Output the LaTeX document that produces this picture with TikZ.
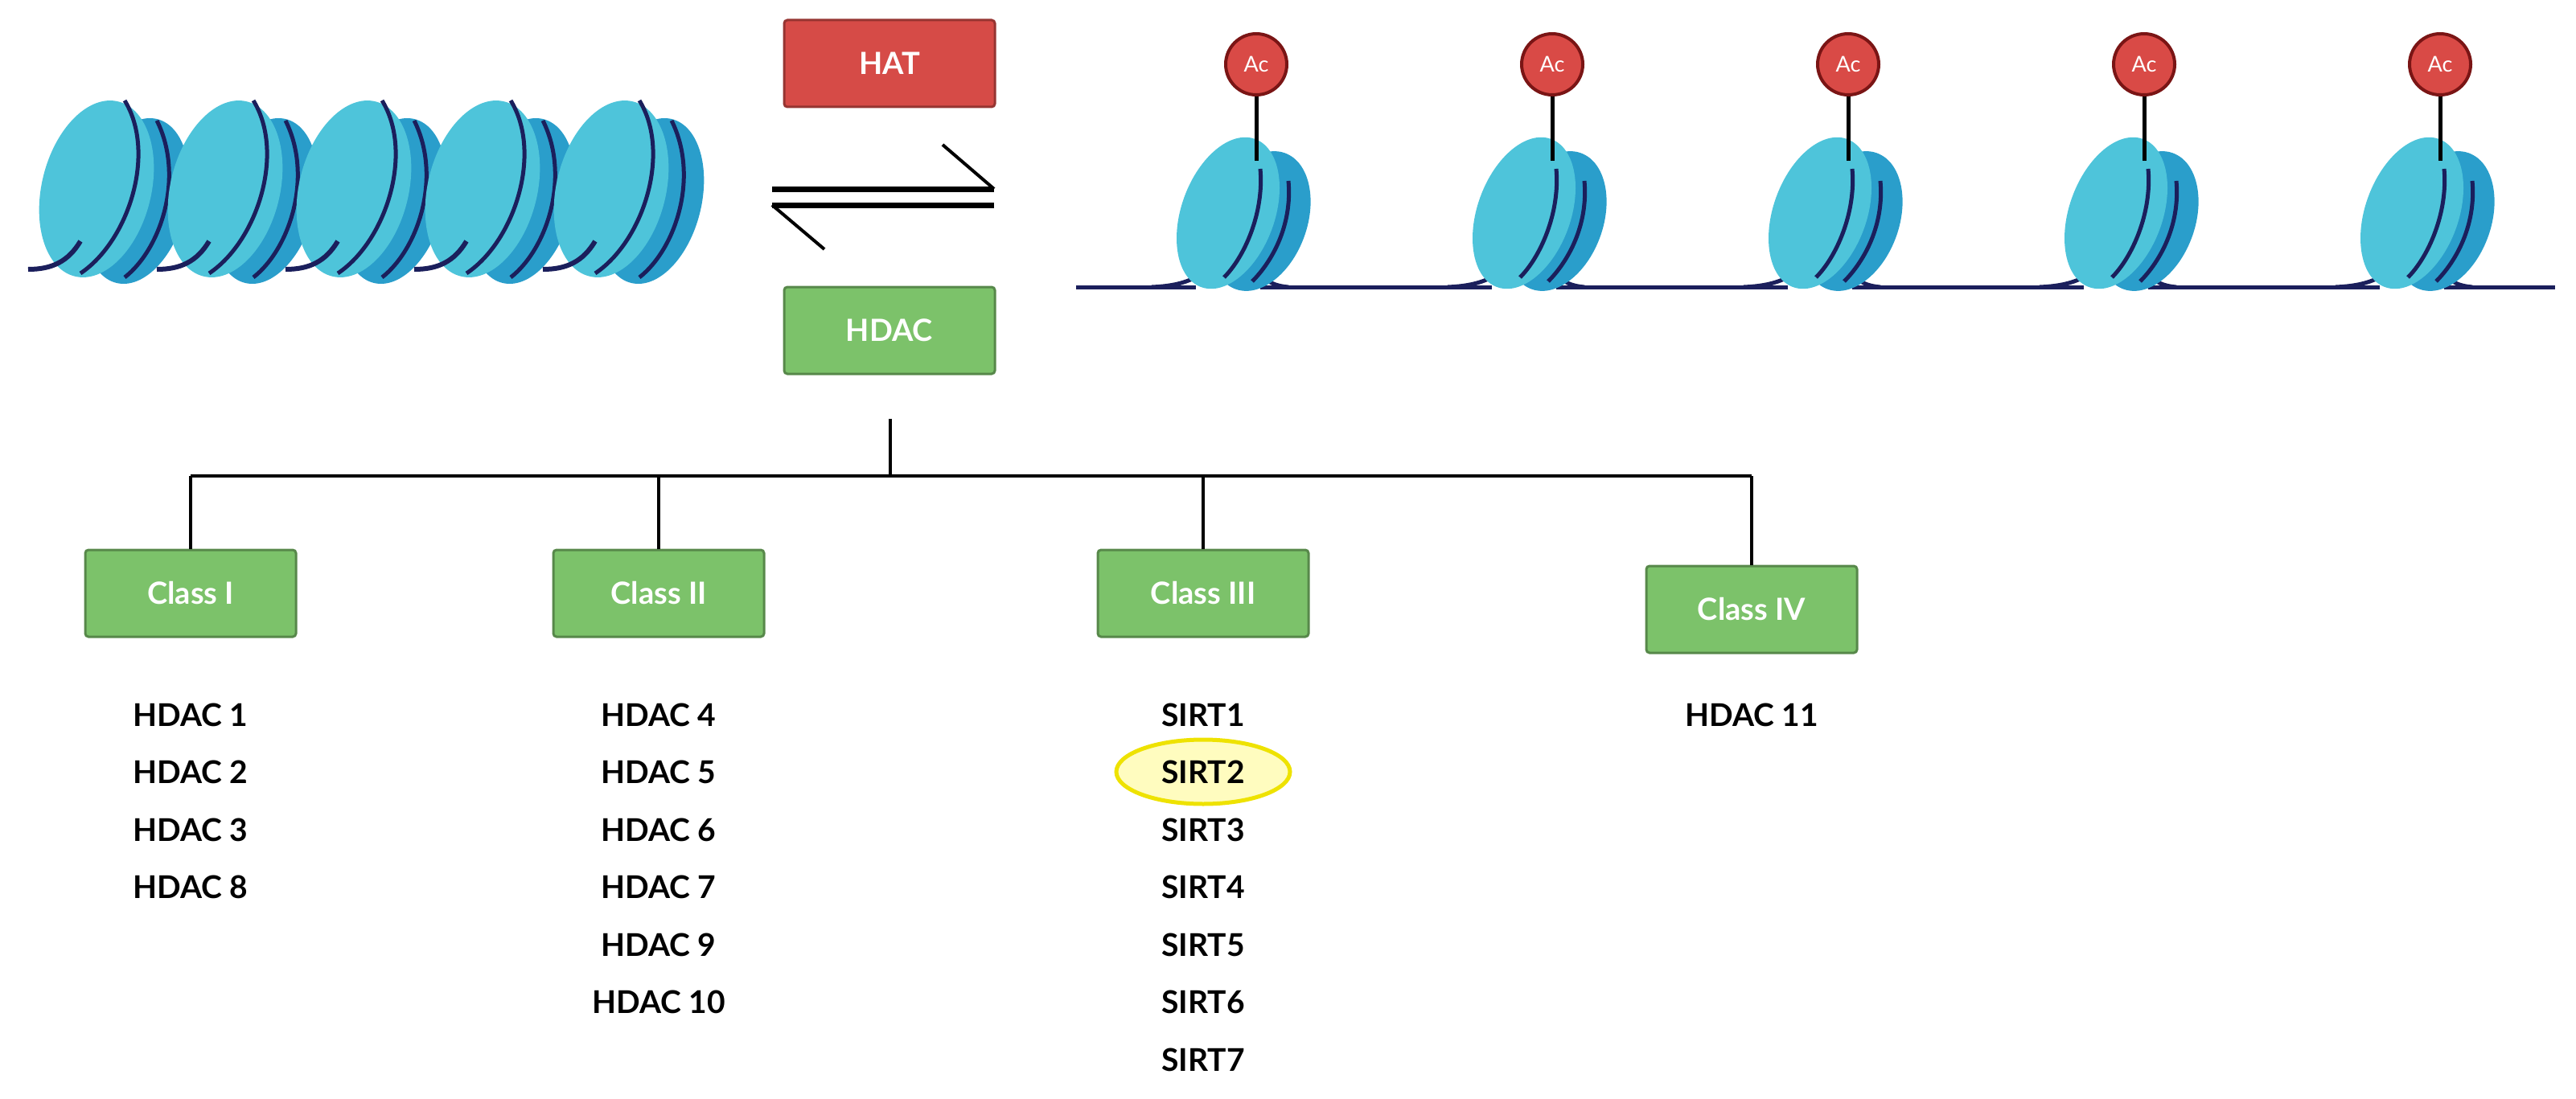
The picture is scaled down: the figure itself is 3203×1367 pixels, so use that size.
\documentclass[tikz,border=0pt]{standalone}
\usepackage{fontspec}
\setmainfont{Lato}
\begin{document}
\begin{tikzpicture}[x=1pt,y=1pt,
  box/.style={draw=#1!70!black,line width=3pt,rounded corners=4pt,minimum width=262pt,minimum height=108pt,text=white,font=\fontsize{38}{44}\selectfont\bfseries},
  gbox/.style={box=grn,fill=grn},
  item/.style={font=\fontsize{39}{44}\selectfont\bfseries,text=black},
  ac/.style={circle,draw=acb,line width=4pt,fill=acr,minimum size=76pt,inner sep=0pt,text=white,font=\fontsize{27}{30}\selectfont},
  line/.style={line width=4pt,black}]
\definecolor{grn}{HTML}{7CC26A}
\definecolor{red1}{HTML}{D64B47}
\definecolor{acr}{HTML}{D94A46}
\definecolor{acb}{HTML}{7A1515}
\definecolor{cyl}{HTML}{4EC4DA}
\definecolor{cyd}{HTML}{2A9ECB}
\definecolor{navy}{HTML}{1B1F5C}
\useasboundingbox (0,0) rectangle (3203,-1367);
% left condensed chromatin
\foreach \i in {0,...,4}{
  \pgfmathsetmacro{\cx}{120+160*\i}
  \fill[cyd,rotate around={-14:(\cx+50,-250)}] (\cx+50,-250) ellipse [x radius=62, y radius=105];
  \fill[cyl,rotate around={-14:(\cx,-235)}] (\cx,-235) ellipse [x radius=68, y radius=112];
  \draw[navy,line width=5pt] (\cx+35,-125) .. controls (\cx+75,-190) and (\cx+40,-300) .. (\cx-20,-340);
  \draw[navy,line width=5pt] (\cx+75,-150) .. controls (\cx+110,-220) and (\cx+80,-310) .. (\cx+35,-345);
  \draw[navy,line width=6pt] (\cx-85,-335) .. controls (\cx-55,-335) and (\cx-35,-325) .. (\cx-20,-300);
}
% equilibrium arrows
\coordinate (u1) at (960,-235); \coordinate (u2) at (1236,-235); \coordinate (u3) at (1172,-180);
\coordinate (l1) at (960,-255); \coordinate (l2) at (1236,-255); \coordinate (l3) at (1025,-310);
\draw[line width=7pt] (u1) -- (u2); \draw[line width=4pt] (u2) -- (u3);
\draw[line width=7pt] (l2) -- (l1); \draw[line width=4pt] (l1) -- (l3);
% HAT / HDAC
\node[box=red1,fill=red1] (hat) at (1106,-79) {HAT};
\node[gbox] (hdac) at (1106,-411) {HDAC};
% right open chromatin
\draw[navy,line width=5pt] (1338,-357) -- (3177,-357);
\foreach \x [count=\k] in {1562,1930,2298,2666,3034}{
  \fill[white] (\x-75,-345) rectangle (\x+5,-362);
  \draw[navy,line width=5pt] (\x-130,-357) .. controls (\x-80,-355) and (\x-60,-340) .. (\x-40,-310);
  \draw[navy,line width=5pt] (\x+40,-357) .. controls (\x+15,-355) and (\x+5,-345) .. (\x-5,-320);
  \fill[cyd,rotate around={-20:(\x+5,-275)}] (\x+5,-275) ellipse [x radius=58, y radius=90];
  \fill[cyl,rotate around={-20:(\x-35,-265)}] (\x-35,-265) ellipse [x radius=58, y radius=98];
  \draw[navy,line width=5pt] (\x+5,-210) .. controls (\x+10,-265) and (\x-15,-320) .. (\x-40,-345);
  \draw[navy,line width=5pt] (\x+40,-225) .. controls (\x+45,-280) and (\x+20,-325) .. (\x-5,-350);
  \node[ac] (ac\k) at (\x,-80) {Ac};
  \coordinate (st\k) at (\x,-200);
  \draw[line width=5pt] (ac\k) -- (st\k);
}
% tree
\node[gbox] (c1) at (237,-738) {Class I};
\node[gbox] (c2) at (819,-738) {Class II};
\node[gbox] (c3) at (1496,-738) {Class III};
\node[gbox] (c4) at (2178,-758) {Class IV};
\coordinate (t0) at (1107,-521); \coordinate (tb) at (1107,-592);
\draw[line] (t0) -- (tb);
\draw[line] (237,-592) -- (2178,-592);
\foreach \c/\x in {c1/237,c2/819,c3/1496,c4/2178}{\draw[line] (\x,-592) -- (\c.north);}
% lists
\fill[yellow!25] (1496,-960) ellipse [x radius=108, y radius=40];
\draw[yellow!85!olive,line width=5pt] (1496,-960) ellipse [x radius=108, y radius=40];
\foreach \t [count=\k] in {HDAC 1,HDAC 2,HDAC 3,HDAC 8}{\node[item] (a\k) at (237,-889-71.5*\k+71.5) {\t};}
\foreach \t [count=\k] in {HDAC 4,HDAC 5,HDAC 6,HDAC 7,HDAC 9,HDAC 10}{\node[item] (b\k) at (819,-889-71.5*\k+71.5) {\t};}
\foreach \t [count=\k] in {SIRT1,SIRT2,SIRT3,SIRT4,SIRT5,SIRT6,SIRT7}{\node[item] (s\k) at (1496,-889-71.5*\k+71.5) {\t};}
\node[item] (d1) at (2178,-889) {HDAC 11};
\end{tikzpicture}
\end{document}
